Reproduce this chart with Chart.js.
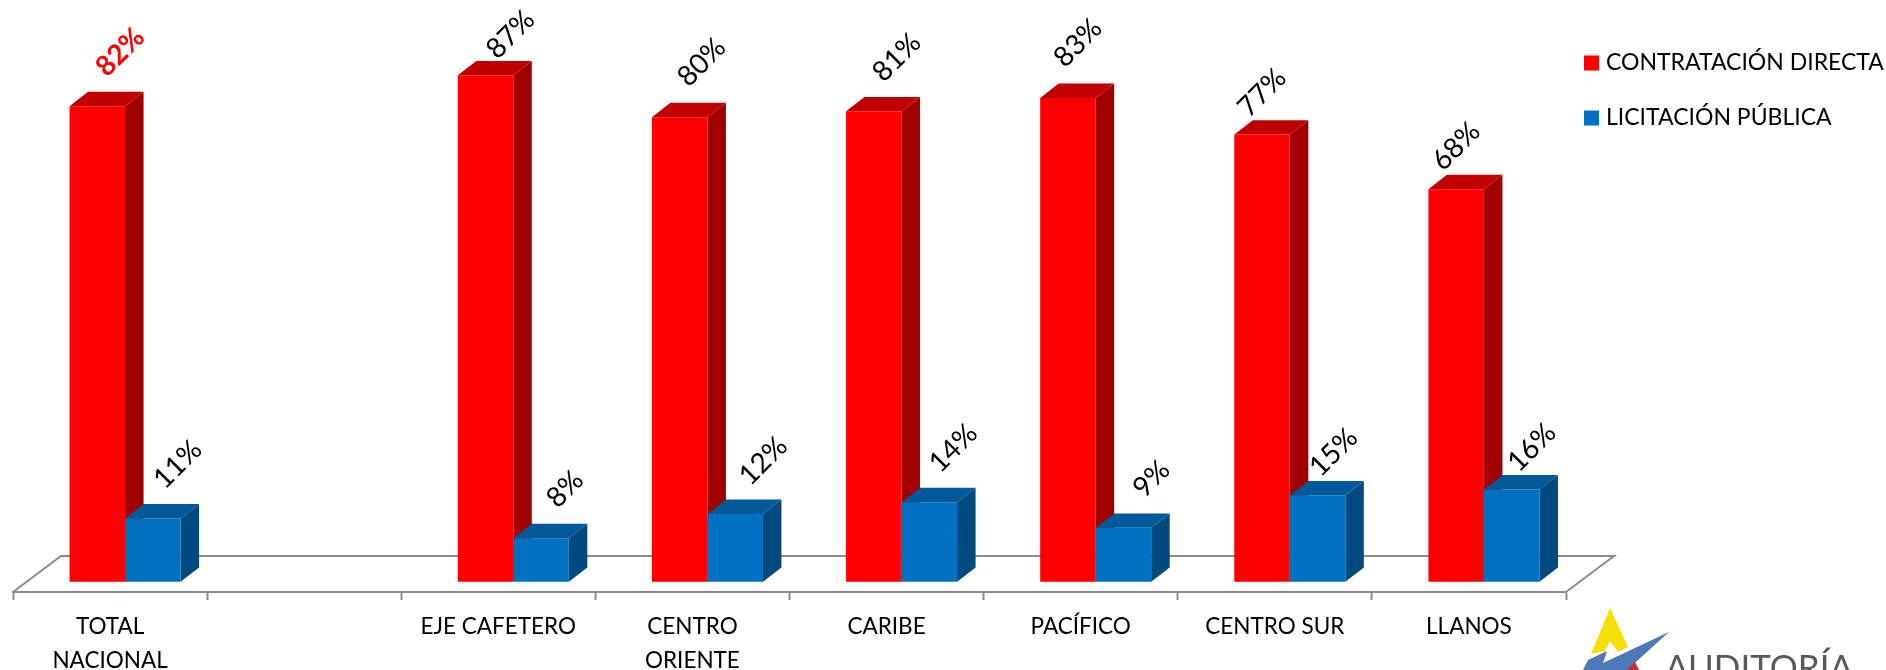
<!DOCTYPE html>
<html>
<head>
<meta charset="utf-8">
<style>
html, body { margin: 0; padding: 0; background: #fff; overflow: hidden; }
#myChart { display: block; }
</style>
<script src="https://cdn.jsdelivr.net/npm/chart.js@4"></script>
</head>
<body>
<canvas id="myChart" width="1886" height="670"></canvas>
<script>
const categories = [['TOTAL', 'NACIONAL'], '', 'EJE CAFETERO', ['CENTRO', 'ORIENTE'], 'CARIBE', 'PACÍFICO', 'CENTRO SUR', 'LLANOS'];
// printed labels are rounded, the bar heights carry a bit more
const contratacionDirecta = [81.9, null, 87.2, 80, 81, 83.3, 77, 67.6];
const licitacionPublica = [10.9, null, 7.5, 11.7, 13.7, 9.3, 14.9, 15.9];

const FONT = 'Lato, Carlito, sans-serif';
const BAR_SHIFT = 15;   // bars sit further back than the axis labels
const DEPTH_X = 18.5;
const DEPTH_Y = 14.4;

// hand placement of the value labels, relative to the top of each bar
const redNudge = [[23, -54], null, [25, -41], [22, -55], [23, -54], [10, -55], [0, -42], [0, -43]];
const blueNudge = [[25, -54], null, [24, -49], [28, -53], [24, -54], [28, -49], [16, -43], [20, -42]];

function poly(ctx, color, pts) {
    ctx.fillStyle = color;
    ctx.beginPath();
    pts.forEach((p, i) => i ? ctx.lineTo(p[0], p[1]) : ctx.moveTo(p[0], p[1]));
    ctx.closePath();
    ctx.fill();
}

const threeD = {
    id: 'threeD',
    beforeDatasetsDraw(chart) {
        const ctx = chart.ctx, a = chart.chartArea;
        const b = a.bottom, back = b - 36;
        // floor of the 3d box
        ctx.save();
        ctx.strokeStyle = '#8c8c8c';
        ctx.lineWidth = 2;
        ctx.beginPath();
        ctx.moveTo(a.left, b);
        ctx.lineTo(a.left + 48, back);
        ctx.lineTo(a.right + 48, back);
        ctx.lineTo(a.right, b);
        ctx.stroke();
        ctx.restore();
        ctx.save();
        ctx.translate(BAR_SHIFT, 0);
        // side and top faces go first, red then blue; the fronts come on top
        chart.data.datasets.forEach((ds, d) => {
            chart.getDatasetMeta(d).data.forEach((bar, i) => {
                if (ds.data[i] === null) return;
                const l = bar.x - bar.width / 2, r = bar.x + bar.width / 2;
                poly(ctx, ds.sideColor, [[r, bar.y], [r + DEPTH_X, bar.y - DEPTH_Y], [r + DEPTH_X, bar.base - DEPTH_Y], [r, bar.base]]);
                poly(ctx, ds.topColor, [[l, bar.y], [l + DEPTH_X, bar.y - DEPTH_Y], [r + DEPTH_X, bar.y - DEPTH_Y], [r, bar.y]]);
            });
        });
    },
    afterDatasetsDraw(chart) {
        const ctx = chart.ctx;
        ctx.restore();
        // value labels
        chart.data.datasets.forEach((ds, d) => {
            chart.getDatasetMeta(d).data.forEach((bar, i) => {
                if (ds.data[i] === null) return;
                const n = ds.nudge[i];
                ctx.save();
                ctx.translate(bar.x + BAR_SHIFT + n[0], bar.y + n[1]);
                ctx.rotate(-Math.PI / 4);
                const total = i === 0 && d === 0;
                ctx.font = (total ? 'bold ' : '') + '28px ' + FONT;
                ctx.fillStyle = total ? '#ff0000' : '#000';
                ctx.textAlign = 'center';
                ctx.textBaseline = 'middle';
                ctx.fillText(Math.round(ds.data[i]) + '%', 0, 0);
                ctx.restore();
            });
        });
        // legend
        chart.data.datasets.forEach((ds, d) => {
            const y = 63 + d * 55;
            ctx.fillStyle = ds.backgroundColor;
            ctx.fillRect(1584, y - 7.5, 15, 15);
            ctx.font = '23px ' + FONT;
            ctx.fillStyle = '#000';
            ctx.textAlign = 'left';
            ctx.textBaseline = 'middle';
            ctx.fillText(ds.label, 1606, y);
        });
        // logo, cut off by the bottom edge
        poly(ctx, '#f5e000', [[1610, 608], [1591, 654], [1605, 651], [1610, 641], [1618, 652], [1628, 647]]);
        poly(ctx, '#4f78b8', [[1669, 632], [1603, 663], [1607, 651], [1588, 660], [1583, 670], [1628, 670], [1637, 661]]);
        poly(ctx, '#cc2a2a', [[1635, 662], [1639, 670], [1627, 670]]);
        ctx.font = '35px ' + FONT;
        ctx.fillStyle = '#595959';
        ctx.textAlign = 'left';
        ctx.textBaseline = 'alphabetic';
        ctx.fillText('AUDITORÍA', 1665, 680);
    }
};

const chart = new Chart(document.getElementById('myChart'), {
    type: 'bar',
    data: {
        labels: categories,
        datasets: [{
            label: 'CONTRATACIÓN DIRECTA',
            data: contratacionDirecta,
            backgroundColor: '#ff0000',
            topColor: '#c00000',
            sideColor: '#a00000',
            nudge: redNudge
        }, {
            label: 'LICITACIÓN PÚBLICA',
            data: licitacionPublica,
            backgroundColor: '#0070c0',
            topColor: '#005a9a',
            sideColor: '#004a80',
            nudge: blueNudge
        }]
    },
    plugins: [threeD],
    options: {
        responsive: false,
        animation: false,
        layout: { padding: { left: 13, right: 320, top: 1, bottom: 0 } },
        datasets: { bar: { categoryPercentage: 0.572, barPercentage: 1 } },
        plugins: { legend: { display: false }, tooltip: { enabled: false } },
        scales: {
            x: {
                afterFit(scale) { scale.height = 78; },
                grid: { drawOnChartArea: false, tickLength: 8, tickColor: '#8c8c8c', tickWidth: 2 },
                border: { color: '#8c8c8c', width: 2 },
                ticks: {
                    autoSkip: false,
                    maxRotation: 0,
                    padding: 10,
                    color: '#000',
                    font: { family: FONT, size: 22.5, lineHeight: 1.51 }
                }
            },
            y: { display: false, min: -1.75, max: 100 }
        }
    }
});
</script>
</body>
</html>
